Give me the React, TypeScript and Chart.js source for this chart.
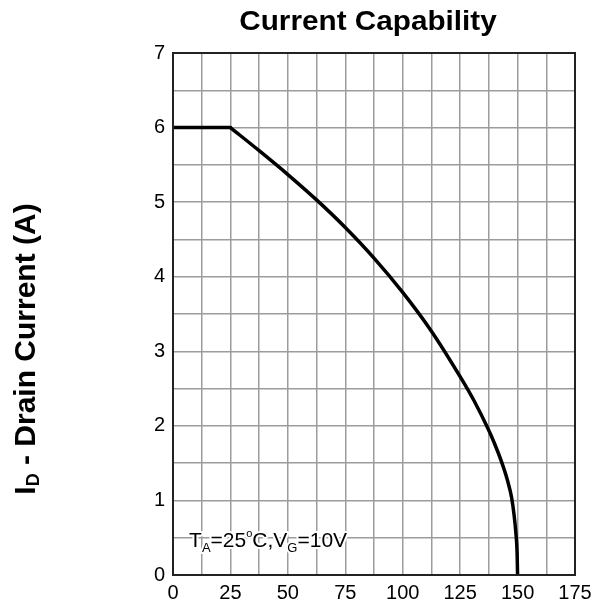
import { useEffect, useRef } from 'react';
import { Chart, registerables } from 'chart.js';

Chart.register(...registerables);

// Case temperature (°C) and drain current (A)
const plateauTempC = [0, 25];
const plateauCurrentA = [6, 6];
const deratingTempC = [25, 37.5, 50, 62.5, 75, 87.5, 100, 112.5, 125, 131, 137, 140, 143, 145.5, 147.4, 148.5, 149.3, 149.8, 150];
const deratingCurrentA = [6, 5.69, 5.37, 5.03, 4.66, 4.25, 3.79, 3.27, 2.66, 2.34, 1.97, 1.76, 1.52, 1.28, 1.04, 0.8, 0.55, 0.3, 0];

const xLabeledTicks = [0, 25, 50, 75, 100, 125, 150, 175];
const yLabeledTicks = [0, 1, 2, 3, 4, 5, 6, 7];

const titleText = 'Current Capability';
const yTitleMain = 'I';
const yTitleSub = 'D';
const yTitleRest = ' - Drain Current (A)';

const FONT = '"Liberation Sans", Arial, sans-serif';

const decorPlugin = {
  id: 'decor',
  afterDraw(chart: any) {
    const ctx = chart.ctx as CanvasRenderingContext2D;
    const a = chart.chartArea;
    ctx.save();
    // plot border
    ctx.strokeStyle = '#222';
    ctx.lineWidth = 2;
    ctx.strokeRect(a.left, a.top, a.right - a.left, a.bottom - a.top);

    // title (slightly wide face)
    ctx.save();
    ctx.fillStyle = '#000';
    ctx.font = `bold 27px ${FONT}`;
    ctx.textAlign = 'center';
    ctx.textBaseline = 'alphabetic';
    ctx.translate(368, 30);
    ctx.scale(1.1, 1);
    ctx.fillText(titleText, 0, 0);
    ctx.restore();

    // y axis title with subscript
    ctx.save();
    ctx.fillStyle = '#000';
    ctx.translate(35, 349);
    ctx.rotate(-Math.PI / 2);
    ctx.textAlign = 'left';
    ctx.textBaseline = 'alphabetic';
    const mainFont = `bold 30px ${FONT}`;
    const subFont = `bold 18px ${FONT}`;
    ctx.font = mainFont;
    const wI = ctx.measureText(yTitleMain).width;
    const wRest = ctx.measureText(yTitleRest).width;
    ctx.font = subFont;
    const wD = ctx.measureText(yTitleSub).width;
    let x = -(wI + wD + wRest) / 2;
    ctx.font = mainFont;
    ctx.fillText(yTitleMain, x, 0);
    x += wI;
    ctx.font = subFont;
    ctx.fillText(yTitleSub, x, 4);
    x += wD;
    ctx.font = mainFont;
    ctx.fillText(yTitleRest, x, 0);
    ctx.restore();

    // condition annotation with halo
    const parts: [string, string, number][] = [
      ['T', `21px ${FONT}`, 0],
      ['A', `13px ${FONT}`, 5],
      ['=25', `21px ${FONT}`, 0],
      ['o', `11px ${FONT}`, -10],
      ['C,V', `21px ${FONT}`, 0],
      ['G', `13px ${FONT}`, 5],
      ['=10V', `21px ${FONT}`, 0],
    ];
    const xs = chart.scales.x;
    const ys = chart.scales.y;
    let ax = xs.getPixelForValue(7);
    const baseY = ys.getPixelForValue(0.5) + 9;
    ctx.textAlign = 'left';
    ctx.textBaseline = 'alphabetic';
    ctx.lineJoin = 'round';
    for (const [t, f, dy] of parts) {
      ctx.font = f;
      ctx.strokeStyle = '#fff';
      ctx.lineWidth = 4;
      ctx.strokeText(t, ax, baseY + dy);
      ctx.fillStyle = '#000';
      ctx.fillText(t, ax, baseY + dy);
      ax += ctx.measureText(t).width;
    }
    ctx.restore();
  },
};

export default function App() {
  const ref = useRef<HTMLCanvasElement>(null);
  useEffect(() => {
    document.body.style.margin = '0';
    const plateau = plateauTempC.map((t, i) => ({ x: t, y: plateauCurrentA[i] }));
    const derating = deratingTempC.map((t, i) => ({ x: t, y: deratingCurrentA[i] }));
    const lineStyle = {
      borderColor: '#000',
      borderWidth: 3.5,
      pointRadius: 0,
      fill: false,
      borderCapStyle: 'round' as const,
      borderJoinStyle: 'round' as const,
    };
    const chart = new Chart(ref.current as HTMLCanvasElement, {
      type: 'line',
      data: {
        datasets: [
          { data: plateau, ...lineStyle, tension: 0 },
          { data: derating, ...lineStyle, cubicInterpolationMode: 'monotone' },
        ],
      },
      options: {
        responsive: false,
        animation: false,
        layout: { padding: { left: 0, top: 53, right: 28, bottom: 0 } },
        plugins: { legend: { display: false }, tooltip: { enabled: false }, title: { display: false } },
        scales: {
          x: {
            type: 'linear',
            min: 0,
            max: 175,
            afterFit(scale: any) {
              scale.height = 30;
            },
            grid: { color: '#9c9c9c', lineWidth: 1.5, drawTicks: false },
            border: { display: false },
            ticks: {
              stepSize: 12.5,
              padding: 6,
              color: '#000',
              font: { family: FONT, size: 20 },
              maxRotation: 0,
              autoSkip: false,
              callback: (v: any) => (xLabeledTicks.includes(Number(v)) ? String(v) : ''),
            },
          },
          y: {
            type: 'linear',
            min: 0,
            max: 7,
            afterFit(scale: any) {
              scale.width = 173;
            },
            grid: { color: '#9c9c9c', lineWidth: 1.5, drawTicks: false },
            border: { display: false },
            ticks: {
              stepSize: 0.5,
              padding: 8,
              color: '#000',
              font: { family: FONT, size: 20 },
              autoSkip: false,
              callback: (v: any) => (yLabeledTicks.includes(Number(v)) ? String(v) : ''),
            },
          },
        },
      },
      plugins: [decorPlugin],
    });
    return () => chart.destroy();
  }, []);
  return (
    <div style={{ width: 603, height: 605 }}>
      <canvas ref={ref} width={603} height={605} style={{ display: 'block' }} />
    </div>
  );
}
